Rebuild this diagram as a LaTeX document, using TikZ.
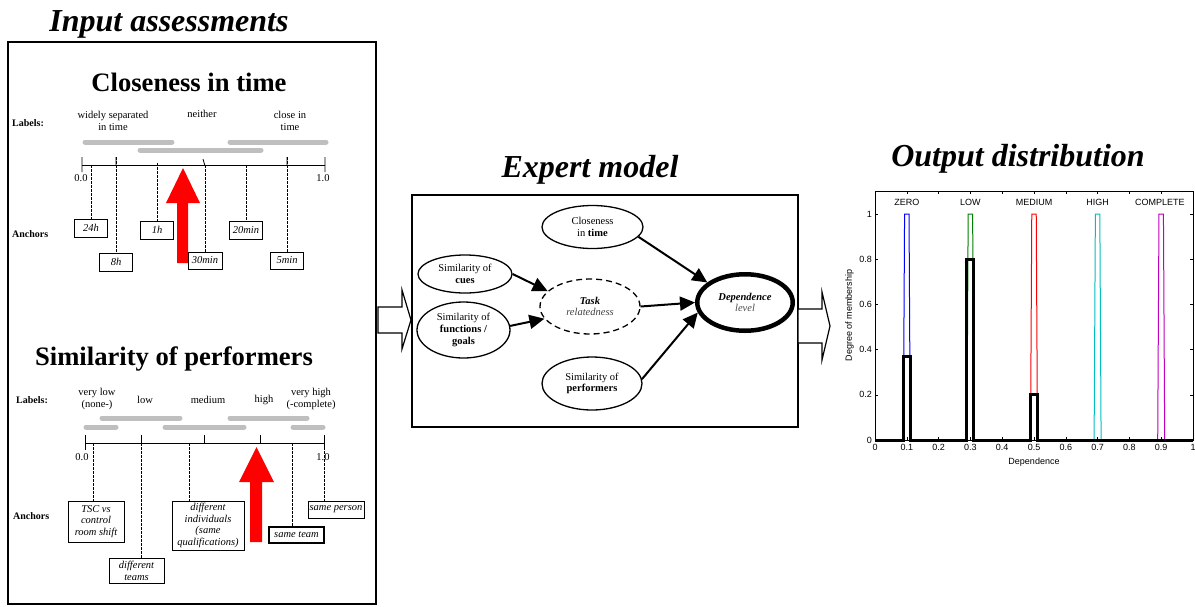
\documentclass[tikz,border=0pt]{standalone}
\usepackage{fontspec}
\setmainfont{Liberation Serif}
\setsansfont{Liberation Sans}
\usetikzlibrary{shapes.geometric,arrows.meta}

\definecolor{mfgreen}{rgb}{0,0.5,0}
\definecolor{mfcyan}{rgb}{0,0.75,0.75}
\definecolor{mfmagenta}{rgb}{0.75,0,0.75}

\tikzset{
  bigtitle/.style={font=\fontsize{32}{35}\selectfont\bfseries\itshape, anchor=base},
  subtitle/.style={font=\fontsize{26.6}{29}\selectfont\bfseries, anchor=base},
  sidelabel/.style={font=\fontsize{10}{12}\selectfont\bfseries, anchor=west, inner sep=0pt},
  hint/.style={font=\fontsize{10.5}{12}\selectfont, align=center, inner sep=0pt},
  band/.style={line width=5pt, line cap=round, color=black!25},
  scaleline/.style={line width=0.8pt},
  guide/.style={dash pattern=on 2.5pt off 1.5pt, line width=0.9pt},
  anchorbox/.style={draw, line width=0.7pt, inner sep=0pt, align=center,
    font=\fontsize{10.5}{11.8}\selectfont\itshape},
  bubble/.style={ellipse, draw, line width=1.3pt, align=center, inner sep=0pt,
    font=\fontsize{10.5}{11.8}\selectfont},
  link/.style={line width=2pt, -{Triangle[length=15pt,width=14pt]}},
  hollow/.style={draw, fill=white, line width=1.2pt, line join=miter},
  mf/.style={line width=1pt},
  ticklbl/.style={font=\sffamily\fontsize{9}{10}\selectfont, inner sep=1pt},
}

\begin{document}
\begin{tikzpicture}[x=1pt, y=-1pt]
\useasboundingbox (0,0) rectangle (1195,606);

% input assessments panel
\node[bigtitle] (intitle) at (169,31) {Input assessments};
\draw[line width=1.6pt] (8,42) rectangle (376,604);

% closeness in time
\node[subtitle] (ctitle) at (189,91) {Closeness in time};
\node[sidelabel] (clabels) at (12,123) {Labels:};
\node[hint] (cwide) at (113,121) {widely separated\\in time};
\node[hint] (cneither) at (202,114) {neither};
\node[hint] (cclose) at (290,121) {close in\\time};

\draw[band] (85,142) -- (172,142);
\draw[band] (140,150) -- (261,150);
\draw[band] (230,142) -- (326,142);

\coordinate (cstart) at (82,165);
\coordinate (cend) at (325,165);
\draw[scaleline] (cstart) -- (cend);
\draw[scaleline] (82,157) -- (82,172) (325,157) -- (325,172)
  (116,157) -- (116,165) (287,157) -- (287,165) (203,159) -- (205,166);
\node[hint] (czero) at (81,178) {0.0};
\node[hint] (cone) at (323,178) {1.0};
\node[sidelabel] (canchors) at (12,234) {Anchors};

\node[anchorbox, minimum width=33, minimum height=18] (h24) at (91,228) {24h};
\node[anchorbox, minimum width=33, minimum height=18] (h8) at (116,262) {8h};
\node[anchorbox, minimum width=33, minimum height=18] (h1) at (157,230) {1h};
\node[anchorbox, minimum width=34, minimum height=17] (m30) at (205,260.5) {30min};
\node[anchorbox, minimum width=33, minimum height=18] (m20) at (246,230) {20min};
\node[anchorbox, minimum width=33, minimum height=17] (m5) at (287,260.5) {5min};

\coordinate (t24) at (91,165);
\coordinate (t8) at (116,157);
\coordinate (t1) at (157,163);
\coordinate (t30) at (205,165);
\coordinate (t20) at (246,165);
\coordinate (t5) at (287,157);
\draw[guide] (t24) -- (h24);
\draw[guide] (t8) -- (h8);
\draw[guide] (t1) -- (h1);
\draw[guide] (t30) -- (m30);
\draw[guide] (t20) -- (m20);
\draw[guide] (t5) -- (m5);

\fill[red] (177,263) -- (177,203) -- (166,203) -- (183,168) -- (200,203)
  -- (188,203) -- (188,263) -- cycle;

% similarity of performers
\node[subtitle] (ptitle) at (174,365) {Similarity of performers};
\node[sidelabel] (plabels) at (16,400) {Labels:};
\node[hint] (pverylow) at (97,398.5) {very low\\(none-)};
\node[hint] (plow) at (145,400) {low};
\node[hint] (pmedium) at (208,400) {medium};
\node[hint] (phigh) at (264,400) {high};
\node[hint] (pveryhigh) at (311,398.5) {very high\\(-complete)};

\draw[band] (102,418) -- (180,418);
\draw[band] (86,427) -- (116,427);
\draw[band] (165,427) -- (244,427);
\draw[band] (230,418) -- (307,418);
\draw[band] (293,427) -- (323,427);

\coordinate (pstart) at (85,443);
\coordinate (pend) at (324,443);
\draw[scaleline] (pstart) -- (pend);
\draw[scaleline] (85,435) -- (85,450) (324,435) -- (324,450)
  (141,435) -- (141,443) (204,435) -- (204,443) (260,435) -- (260,443);
\node[hint] (pzero) at (82,457) {0.0};
\node[hint] (pone) at (323,457) {1.0};
\node[sidelabel] (panchors) at (13,516) {Anchors};

\node[anchorbox, minimum width=56, minimum height=41] (tsc) at (96,521.5) {TSC vs\\control\\room shift};
\node[anchorbox, minimum width=55, minimum height=25] (teams) at (136.5,570.5) {different\\teams};
\node[anchorbox, minimum width=72, minimum height=49] (indiv) at (208,525.5) {different\\individuals\\(same\\qualifications)};
\node[anchorbox, line width=1.3pt, minimum width=55, minimum height=16] (team) at (296.5,535) {same team};
\node[anchorbox, minimum width=56, minimum height=17] (person) at (336,509.5) {same person};

\coordinate (p1) at (93,443);
\coordinate (p2) at (141,443);
\coordinate (p3) at (189,443);
\coordinate (p4) at (292,443);
\coordinate (p5) at (324,443);
\draw[guide] (p1) -- (p1 |- tsc.north);
\draw[guide] (p2) -- (p2 |- teams.north);
\draw[guide] (p3) -- (p3 |- indiv.north);
\draw[guide] (p4) -- (p4 |- team.north);
\draw[guide] (p5) -- (p5 |- person.north);

\fill[red] (250,542) -- (250,482) -- (239,482) -- (256.5,447) -- (274,482)
  -- (262,482) -- (262,542) -- cycle;

% expert model
\node[bigtitle] (extitle) at (590,177) {Expert model};
\draw[line width=1.3pt] (412,195) rectangle (798,427);

\node[bubble, minimum width=101, minimum height=43] (close) at (592.5,227) {Closeness\\in \textbf{time}};
\node[bubble, minimum width=94, minimum height=38] (cues) at (465,274) {Similarity of\\\textbf{cues}};
\node[bubble, minimum width=93, minimum height=56] (func) at (463.5,330) {Similarity of\\\textbf{functions /}\\\textbf{goals}};
\node[bubble, dashed, dash pattern=on 6pt off 4pt, minimum width=100, minimum height=55] (task) at (590,306.5)
  {\textbf{\textit{Task}}\\\textcolor{black!75}{\textit{relatedness}}};
\node[bubble, minimum width=100, minimum height=53] (perf) at (592,383.5) {Similarity of\\\textbf{performers}};
\node[bubble, line width=4.5pt, minimum width=95.5, minimum height=56.5] (dep) at (745,302.5)
  {\textbf{\textit{Dependence}}\\\textcolor{black!70}{\textit{level}}};

\draw[link] (cues.east) -- (task.160);
\draw[link] (func.5) -- (task.195);
\draw[link] (task.east) -- (dep.west);
\draw[link] (close.-12) -- (dep.152);
\draw[link] (perf.5) -- (dep.192);

% block arrows between panels
\draw[hollow] (378,307) -- (402,307) -- (402,290) -- (411,320) -- (402,349)
  -- (402,333) -- (378,333) -- cycle;
\draw[hollow] (798,309) -- (822,309) -- (822,292) -- (830,326) -- (822,360)
  -- (822,343) -- (798,343) -- cycle;

% output distribution
\node[bigtitle] (outtitle) at (1018,166) {Output distribution};

\begin{scope}[shift={(875,440)}, x=318pt, y=226pt]
  \draw[line width=0.8pt] (0,0) rectangle (1,1.1);
  \foreach \l [count=\i] in {0,0.1,0.2,0.3,0.4,0.5,0.6,0.7,0.8,0.9,1} {
    \draw[line width=0.5pt] (\l,0) -- ++(0,0.012) (\l,1.1) -- ++(0,-0.012);
    \node[ticklbl, anchor=north] (xt\i) at (\l,-0.012) {\l};
  }
  \foreach \l [count=\i] in {0,0.2,0.4,0.6,0.8,1} {
    \draw[line width=0.5pt] (0,\l) -- ++(0.009,0) (1,\l) -- ++(-0.009,0);
    \node[ticklbl, anchor=east] (yt\i) at (-0.006,\l) {\l};
  }
  \draw[mf, blue] (0.089,0) -- (0.093,1) -- (0.107,1) -- (0.111,0);
  \draw[mf, mfgreen] (0.289,0) -- (0.293,1) -- (0.307,1) -- (0.311,0);
  \draw[mf, red] (0.489,0) -- (0.493,1) -- (0.507,1) -- (0.511,0);
  \draw[mf, mfcyan] (0.689,0) -- (0.693,1) -- (0.707,1) -- (0.711,0);
  \draw[mf, mfmagenta] (0.889,0) -- (0.893,1) -- (0.907,1) -- (0.911,0);
  \draw[line width=3pt, line join=miter] (0,0) -- (0.089,0) -- (0.089,0.37)
    -- (0.111,0.37) -- (0.111,0) -- (0.289,0) -- (0.289,0.8) -- (0.311,0.8)
    -- (0.311,0) -- (0.489,0) -- (0.489,0.2) -- (0.511,0.2) -- (0.511,0) -- (1,0);
  \node[ticklbl] (zero) at (0.1,1.05) {ZERO};
  \node[ticklbl] (low) at (0.3,1.05) {LOW};
  \node[ticklbl] (medium) at (0.5,1.05) {MEDIUM};
  \node[ticklbl] (high) at (0.7,1.05) {HIGH};
  \node[ticklbl] (complete) at (0.896,1.05) {COMPLETE};
  \node[ticklbl] (xlab) at (0.5,-0.097) {Dependence};
  \node[ticklbl, rotate=90] (ylab) at (-0.08,0.55) {Degree of membership};
\end{scope}

\end{tikzpicture}
\end{document}
